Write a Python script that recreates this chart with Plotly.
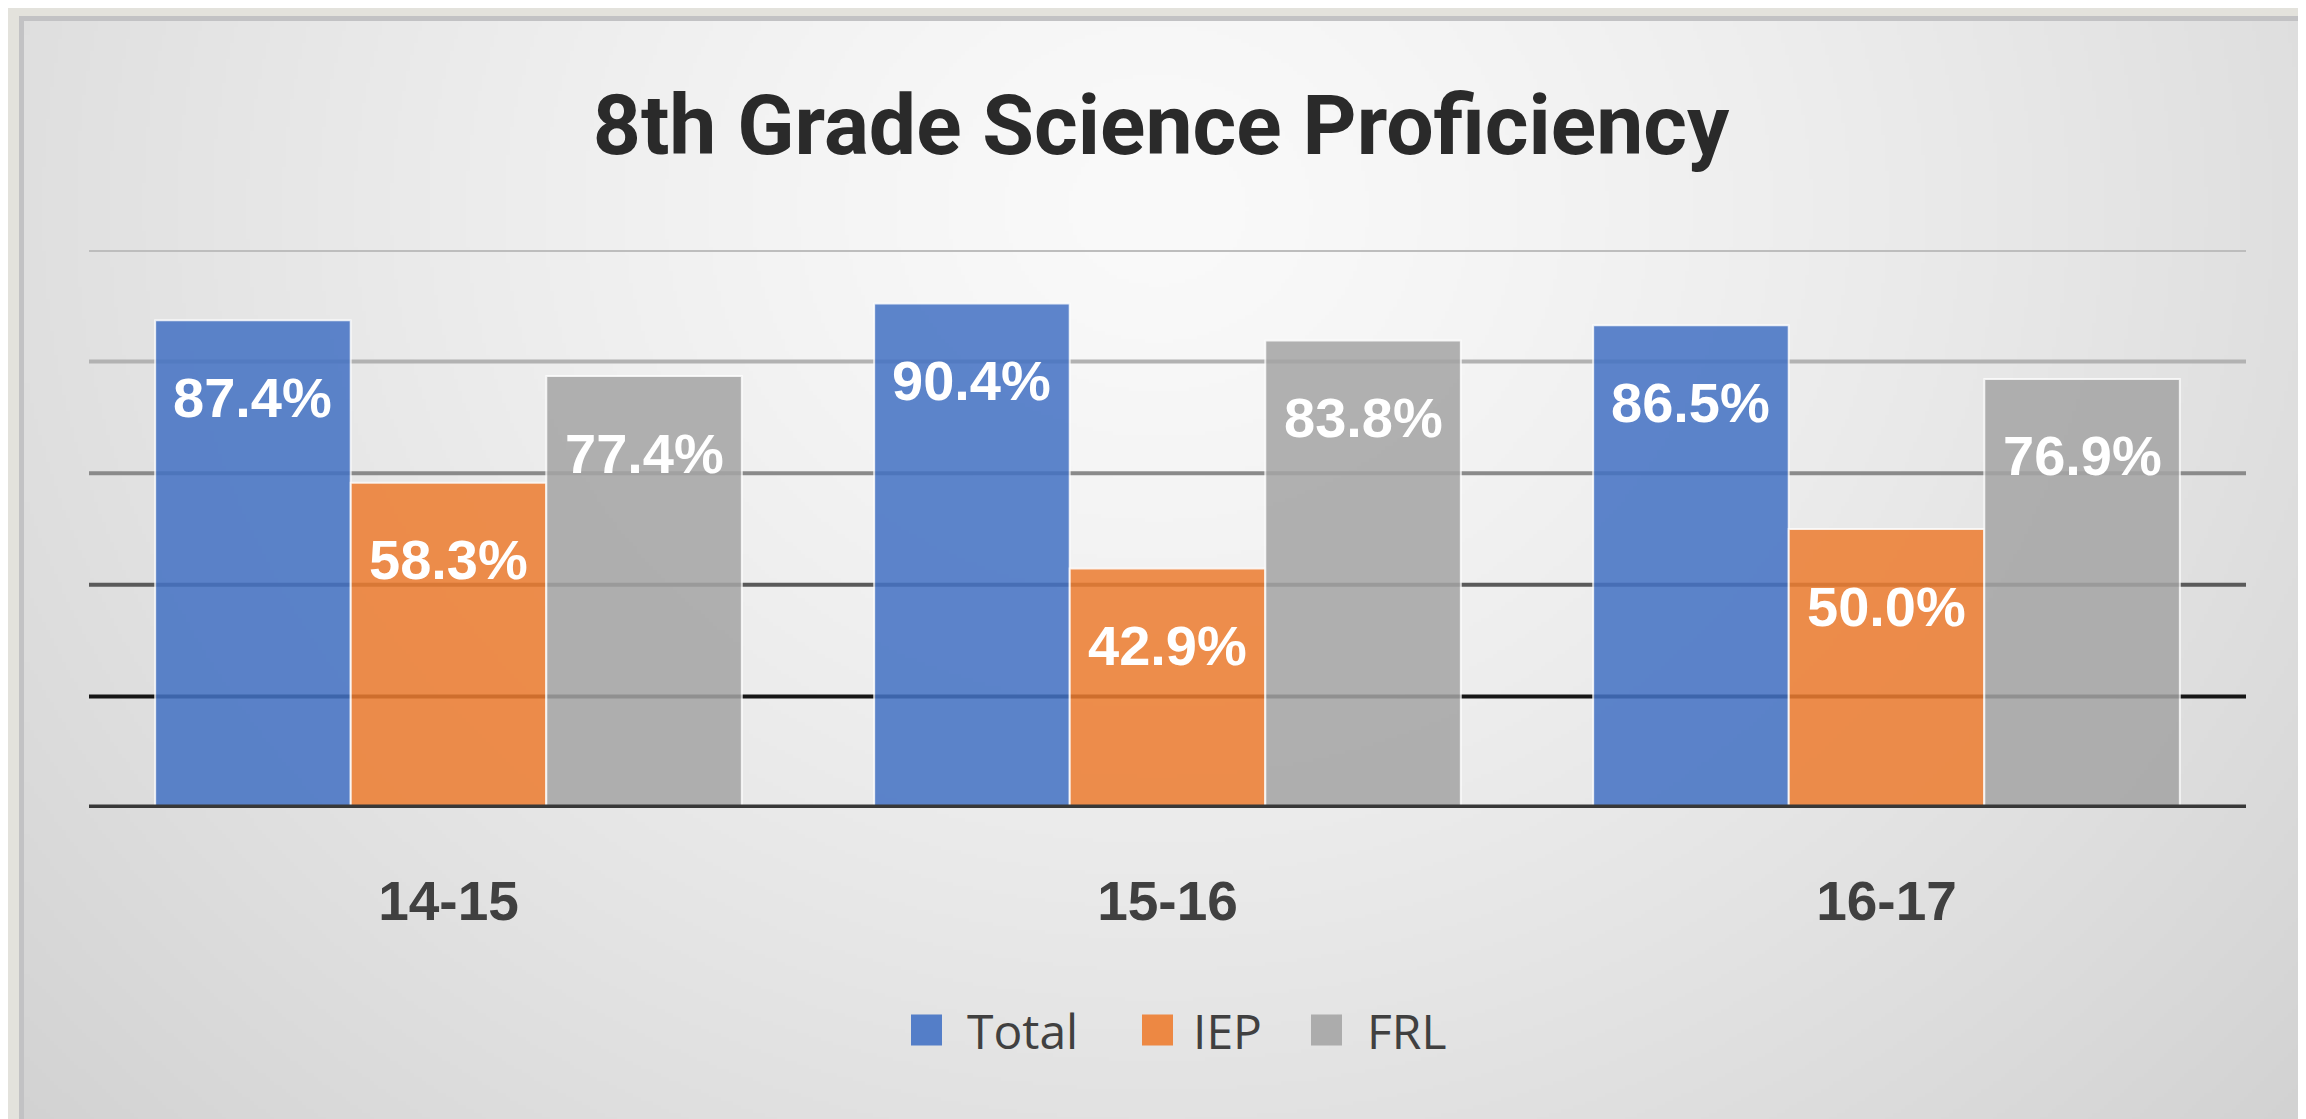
import base64
import struct
import zlib

import numpy as np
import plotly.graph_objects as go

# ---------------- data ----------------
categories = ["14-15", "15-16", "16-17"]
series_names = ["Total", "IEP", "FRL"]
total_values = [87.4, 90.4, 86.5]
iep_values = [58.3, 42.9, 50.0]
frl_values = [77.4, 83.8, 76.9]
grid_ticks = [20, 40, 60, 80, 100]

# ---------------- styles ----------------
W, H = 2306, 1119
M_L, M_R, M_T, M_B = 81, 68, 242, 319
BARGAP = 0.184
series_colors = ["#4472C4", "#ED7D31", "#A5A5A5"]
grid_colors = ["#161616", "#5a5a5a", "#8a8a8a", "#b2b2b2", "#bdbdbd"]
ARIAL = "Liberation Sans, Arial, sans-serif"
OPEN = "Open Sans, Noto Sans, sans-serif"
TITLE_FONT = "Roboto, Open Sans, sans-serif"

# legend layout (pixel positions of the swatches / labels)
legend_swatch_x = [903, 1134, 1303]
legend_text_x = [957, 1183, 1357]
legend_cy = 1022
SWATCH = 31

plot_w = W - M_L - M_R
plot_h = H - M_T - M_B


def px_to_paper_x(px):
    return (px - M_L) / plot_w


def px_to_paper_y(py):
    return (H - M_B - py) / plot_h


# ---------------- background gradient image ----------------
def png_gray(arr):
    h, w = arr.shape
    raw = b"".join(b"\x00" + arr[i].tobytes() for i in range(h))

    def chunk(t, d):
        c = struct.pack(">I", len(d)) + t + d
        return c + struct.pack(">I", zlib.crc32(t + d) & 0xFFFFFFFF)

    return (b"\x89PNG\r\n\x1a\n"
            + chunk(b"IHDR", struct.pack(">IIBBBBB", w, h, 8, 0, 0, 0, 0))
            + chunk(b"IDAT", zlib.compress(raw, 9))
            + chunk(b"IEND", b""))


IX0, IX1, IY0, IY1 = 16, 2302, 13, 1119
gw, gh = 572, 277
xs = IX0 + (np.arange(gw) + 0.5) * (IX1 - IX0) / gw
ys = IY0 + (np.arange(gh) + 0.5) * (IY1 - IY0) / gh
XX, YY = np.meshgrid(xs, ys)
d = np.sqrt(((XX - 1150) / 1150) ** 2 + ((YY - 200) / 1000) ** 2)
val = 250 - 27 * d ** 1.3
img = np.clip(val, 0, 255).astype(np.uint8)
bg_uri = "data:image/png;base64," + base64.b64encode(png_gray(img)).decode()

# ---------------- figure ----------------
fig = go.Figure()
all_values = [total_values, iep_values, frl_values]
for name, vals, col in zip(series_names, all_values, series_colors):
    fig.add_trace(go.Bar(
        x=categories, y=vals, name=name,
        marker=dict(color=col, line=dict(color="rgba(255,255,255,0.85)", width=2)),
        opacity=0.86,
        showlegend=False,
        hoverinfo="x+y+name",
    ))

# data labels (inside bars, near the top)
cat_px = plot_w / len(categories)
slot = cat_px * (1 - BARGAP) / len(series_names)
annotations = []
for j, vals in enumerate(all_values):
    for cat, v in zip(categories, vals):
        annotations.append(dict(
            x=cat, y=v, xref="x", yref="y",
            text=f"{v:.1f}%", showarrow=False,
            xshift=(j - (len(series_names) - 1) / 2) * slot,
            yshift=-77, yanchor="middle", xanchor="center",
            font=dict(family=ARIAL, size=56, color="white", weight="bold"),
        ))

shapes = []
# page frame texture strips
shapes.append(dict(type="rect", xref="paper", yref="paper", layer="below",
                   x0=px_to_paper_x(0), x1=px_to_paper_x(11),
                   y0=px_to_paper_y(H), y1=px_to_paper_y(0),
                   fillcolor="#e3e2dc", line=dict(width=0)))
shapes.append(dict(type="rect", xref="paper", yref="paper", layer="below",
                   x0=px_to_paper_x(0), x1=px_to_paper_x(W),
                   y0=px_to_paper_y(8), y1=px_to_paper_y(0),
                   fillcolor="#e3e2dc", line=dict(width=0)))
# gridlines
for t, c in zip(grid_ticks, grid_colors):
    shapes.append(dict(type="line", xref="paper", yref="y", layer="below",
                       x0=0, x1=1, y0=t, y1=t, line=dict(color=c, width=4)))
# baseline
shapes.append(dict(type="line", xref="paper", yref="y", layer="above",
                   x0=0, x1=1, y0=0, y1=0, line=dict(color="#383838", width=7)))

# legend (swatches + labels)
for name, col, sx, tx in zip(series_names, series_colors, legend_swatch_x, legend_text_x):
    shapes.append(dict(type="rect", xref="paper", yref="paper", layer="above",
                       x0=px_to_paper_x(sx), x1=px_to_paper_x(sx + SWATCH),
                       y0=px_to_paper_y(legend_cy + SWATCH / 2),
                       y1=px_to_paper_y(legend_cy - SWATCH / 2),
                       fillcolor=col, opacity=0.9, line=dict(width=0)))
    annotations.append(dict(
        x=px_to_paper_x(tx), y=px_to_paper_y(legend_cy), xref="paper", yref="paper",
        text=name, showarrow=False, xanchor="left", yanchor="middle",
        font=dict(family=OPEN, size=48, color="#404040"),
    ))

fig.update_layout(
    width=W, height=H,
    margin=dict(l=M_L, r=M_R, t=M_T, b=M_B, autoexpand=False),
    paper_bgcolor="#c2c2c4",
    plot_bgcolor="rgba(0,0,0,0)",
    barmode="group", bargap=BARGAP, bargroupgap=0,
    title=dict(text="8th Grade Science Proficiency",
               x=0.5, xref="container", xanchor="center",
               y=1 - 117 / H, yref="container", yanchor="middle",
               font=dict(family=TITLE_FONT, size=84, color="#2a2a2a", weight="bold")),
    xaxis=dict(type="category", showgrid=False, zeroline=False, showline=False,
               ticks="", ticklabelstandoff=56,
               tickfont=dict(family=ARIAL, size=55, color="#404040", weight="bold")),
    yaxis=dict(range=[0, 100], visible=False, showgrid=False, zeroline=False),
    annotations=annotations,
    shapes=shapes,
    images=[dict(source=bg_uri, xref="paper", yref="paper",
                 x=px_to_paper_x(IX0), y=px_to_paper_y(IY0),
                 sizex=(IX1 - IX0) / plot_w, sizey=(IY1 - IY0) / plot_h,
                 xanchor="left", yanchor="top", sizing="stretch", layer="below")],
    showlegend=False,
)

fig.write_html("out.html")
